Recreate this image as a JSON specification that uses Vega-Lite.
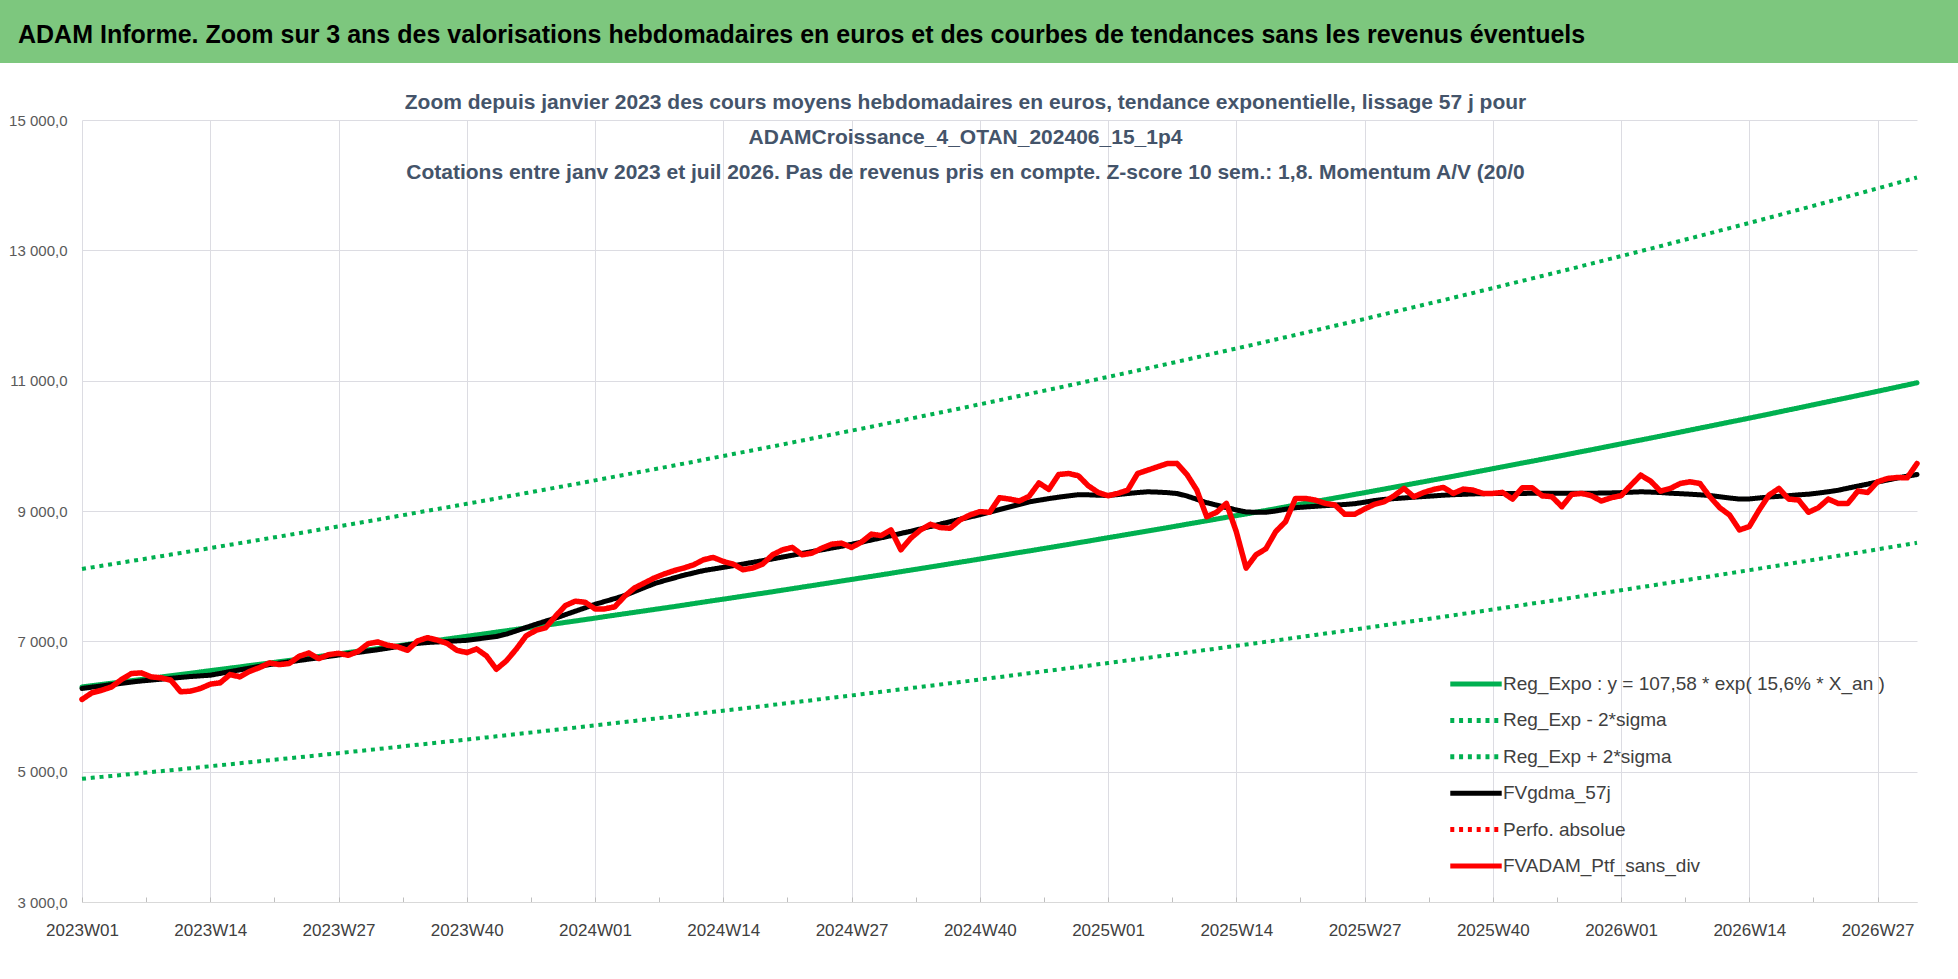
{
  "$schema": "https://vega.github.io/schema/vega-lite/v6.json",
  "background": "white",
  "padding": 0,
  "center": true,
  "bounds": "flush",
  "spacing": 57,
  "resolve": {
    "scale": {"color": "independent", "strokeDash": "independent"},
    "legend": {"color": "independent", "strokeDash": "independent"}
  },
  "config": {
    "font": "Liberation Sans, Arial, sans-serif",
    "view": {"stroke": null},
    "legend": {
      "orient": "bottom-right",
      "offset": 26,
      "padding": 0,
      "symbolType": "M-2.1,0H2.1",
      "symbolSize": 600,
      "symbolStrokeWidth": 5,
      "labelFontSize": 19,
      "labelColor": "#404040",
      "labelOffset": 12,
      "labelLimit": 700,
      "rowPadding": 11.4
    }
  },
  "vconcat": [
    {
      "width": 1999,
      "height": 63,
      "view": {"fill": "#7DC77E", "stroke": null},
      "data": {"values": []},
      "mark": "text",
      "encoding": {},
      "title": {
        "text": "ADAM Informe. Zoom sur 3 ans des valorisations hebdomadaires en euros et des courbes de tendances sans les revenus éventuels",
        "anchor": "start",
        "frame": "group",
        "orient": "top",
        "offset": -73,
        "baseline": "bottom",
        "dx": 18,
        "fontSize": 25,
        "fontWeight": "bold",
        "color": "#000000"
      }
    },
    {
      "width": 1835,
      "height": 782,
      "title": {
        "text": [
          "Zoom depuis janvier 2023 des cours moyens hebdomadaires  en euros, tendance exponentielle, lissage 57 j pour",
          "ADAMCroissance_4_OTAN_202406_15_1p4",
          "Cotations  entre janv 2023 et juil 2026. Pas de revenus pris en compte. Z-score 10 sem.: 1,8. Momentum A/V (20/0"
        ],
        "anchor": "middle",
        "frame": "group",
        "orient": "top",
        "offset": -91,
        "baseline": "bottom",
        "dx": -34,
        "fontSize": 21,
        "lineHeight": 35,
        "fontWeight": "bold",
        "color": "#44546A"
      },
      "data": {
        "values": [
          {"i":0,"w":"2023W01","reg":6300,"lo":4890,"hi":8110,"ma":6277,"ptf":6109},
          {"i":1,"w":"2023W02","reg":6319,"lo":4905,"hi":8135,"ma":6297,"ptf":6210},
          {"i":2,"w":"2023W03","reg":6338,"lo":4920,"hi":8159,"ma":6316,"ptf":6250},
          {"i":3,"w":"2023W04","reg":6357,"lo":4934,"hi":8184,"ma":6336,"ptf":6300},
          {"i":4,"w":"2023W05","reg":6376,"lo":4949,"hi":8208,"ma":6355,"ptf":6414},
          {"i":5,"w":"2023W06","reg":6395,"lo":4964,"hi":8233,"ma":6375,"ptf":6506},
          {"i":6,"w":"2023W07","reg":6414,"lo":4979,"hi":8257,"ma":6392,"ptf":6516},
          {"i":7,"w":"2023W08","reg":6433,"lo":4994,"hi":8282,"ma":6405,"ptf":6455},
          {"i":8,"w":"2023W09","reg":6452,"lo":5008,"hi":8306,"ma":6419,"ptf":6440},
          {"i":9,"w":"2023W10","reg":6472,"lo":5023,"hi":8331,"ma":6433,"ptf":6404},
          {"i":10,"w":"2023W11","reg":6491,"lo":5038,"hi":8355,"ma":6446,"ptf":6226},
          {"i":11,"w":"2023W12","reg":6510,"lo":5053,"hi":8381,"ma":6460,"ptf":6236},
          {"i":12,"w":"2023W13","reg":6530,"lo":5068,"hi":8406,"ma":6470,"ptf":6277},
          {"i":13,"w":"2023W14","reg":6550,"lo":5084,"hi":8431,"ma":6480,"ptf":6343},
          {"i":14,"w":"2023W15","reg":6569,"lo":5099,"hi":8456,"ma":6507,"ptf":6363},
          {"i":15,"w":"2023W16","reg":6589,"lo":5114,"hi":8482,"ma":6535,"ptf":6490},
          {"i":16,"w":"2023W17","reg":6608,"lo":5129,"hi":8507,"ma":6562,"ptf":6455},
          {"i":17,"w":"2023W18","reg":6628,"lo":5145,"hi":8532,"ma":6589,"ptf":6540},
          {"i":18,"w":"2023W19","reg":6648,"lo":5160,"hi":8557,"ma":6616,"ptf":6597},
          {"i":19,"w":"2023W20","reg":6667,"lo":5175,"hi":8583,"ma":6643,"ptf":6669},
          {"i":20,"w":"2023W21","reg":6687,"lo":5190,"hi":8608,"ma":6664,"ptf":6643},
          {"i":21,"w":"2023W22","reg":6707,"lo":5206,"hi":8634,"ma":6685,"ptf":6659},
          {"i":22,"w":"2023W23","reg":6727,"lo":5221,"hi":8660,"ma":6706,"ptf":6770},
          {"i":23,"w":"2023W24","reg":6748,"lo":5237,"hi":8686,"ma":6727,"ptf":6821},
          {"i":24,"w":"2023W25","reg":6768,"lo":5253,"hi":8712,"ma":6748,"ptf":6735},
          {"i":25,"w":"2023W26","reg":6788,"lo":5269,"hi":8738,"ma":6769,"ptf":6796},
          {"i":26,"w":"2023W27","reg":6808,"lo":5284,"hi":8764,"ma":6790,"ptf":6816},
          {"i":27,"w":"2023W28","reg":6828,"lo":5300,"hi":8790,"ma":6810,"ptf":6786},
          {"i":28,"w":"2023W29","reg":6849,"lo":5316,"hi":8816,"ma":6831,"ptf":6847},
          {"i":29,"w":"2023W30","reg":6869,"lo":5331,"hi":8842,"ma":6851,"ptf":6964},
          {"i":30,"w":"2023W31","reg":6889,"lo":5347,"hi":8868,"ma":6872,"ptf":6990},
          {"i":31,"w":"2023W32","reg":6910,"lo":5364,"hi":8895,"ma":6895,"ptf":6939},
          {"i":32,"w":"2023W33","reg":6931,"lo":5380,"hi":8922,"ma":6920,"ptf":6915},
          {"i":33,"w":"2023W34","reg":6952,"lo":5396,"hi":8949,"ma":6945,"ptf":6862},
          {"i":34,"w":"2023W35","reg":6973,"lo":5412,"hi":8976,"ma":6968,"ptf":7005},
          {"i":35,"w":"2023W36","reg":6993,"lo":5428,"hi":9003,"ma":6982,"ptf":7056},
          {"i":36,"w":"2023W37","reg":7014,"lo":5444,"hi":9029,"ma":6990,"ptf":7020},
          {"i":37,"w":"2023W38","reg":7035,"lo":5461,"hi":9056,"ma":6998,"ptf":6969},
          {"i":38,"w":"2023W39","reg":7056,"lo":5477,"hi":9083,"ma":7007,"ptf":6862},
          {"i":39,"w":"2023W40","reg":7077,"lo":5493,"hi":9110,"ma":7015,"ptf":6827},
          {"i":40,"w":"2023W41","reg":7098,"lo":5509,"hi":9137,"ma":7035,"ptf":6883},
          {"i":41,"w":"2023W42","reg":7119,"lo":5526,"hi":9164,"ma":7055,"ptf":6776},
          {"i":42,"w":"2023W43","reg":7141,"lo":5542,"hi":9192,"ma":7074,"ptf":6572},
          {"i":43,"w":"2023W44","reg":7162,"lo":5559,"hi":9220,"ma":7110,"ptf":6699},
          {"i":44,"w":"2023W45","reg":7183,"lo":5576,"hi":9247,"ma":7160,"ptf":6877},
          {"i":45,"w":"2023W46","reg":7205,"lo":5592,"hi":9275,"ma":7212,"ptf":7081},
          {"i":46,"w":"2023W47","reg":7226,"lo":5609,"hi":9302,"ma":7262,"ptf":7168},
          {"i":47,"w":"2023W48","reg":7248,"lo":5626,"hi":9330,"ma":7310,"ptf":7208},
          {"i":48,"w":"2023W49","reg":7269,"lo":5642,"hi":9358,"ma":7356,"ptf":7386},
          {"i":49,"w":"2023W50","reg":7291,"lo":5659,"hi":9385,"ma":7410,"ptf":7549},
          {"i":50,"w":"2023W51","reg":7312,"lo":5676,"hi":9413,"ma":7462,"ptf":7616},
          {"i":51,"w":"2023W52","reg":7334,"lo":5693,"hi":9441,"ma":7515,"ptf":7600},
          {"i":52,"w":"2024W01","reg":7356,"lo":5710,"hi":9470,"ma":7568,"ptf":7498},
          {"i":53,"w":"2024W02","reg":7379,"lo":5727,"hi":9498,"ma":7612,"ptf":7498},
          {"i":54,"w":"2024W03","reg":7401,"lo":5744,"hi":9527,"ma":7656,"ptf":7529},
          {"i":55,"w":"2024W04","reg":7423,"lo":5761,"hi":9555,"ma":7703,"ptf":7692},
          {"i":56,"w":"2024W05","reg":7445,"lo":5779,"hi":9584,"ma":7765,"ptf":7819},
          {"i":57,"w":"2024W06","reg":7467,"lo":5796,"hi":9612,"ma":7825,"ptf":7895},
          {"i":58,"w":"2024W07","reg":7489,"lo":5813,"hi":9641,"ma":7885,"ptf":7972},
          {"i":59,"w":"2024W08","reg":7511,"lo":5830,"hi":9669,"ma":7930,"ptf":8033},
          {"i":60,"w":"2024W09","reg":7533,"lo":5847,"hi":9698,"ma":7972,"ptf":8084},
          {"i":61,"w":"2024W10","reg":7556,"lo":5865,"hi":9727,"ma":8013,"ptf":8125},
          {"i":62,"w":"2024W11","reg":7579,"lo":5883,"hi":9756,"ma":8050,"ptf":8175},
          {"i":63,"w":"2024W12","reg":7602,"lo":5900,"hi":9786,"ma":8085,"ptf":8252},
          {"i":64,"w":"2024W13","reg":7625,"lo":5918,"hi":9815,"ma":8110,"ptf":8287},
          {"i":65,"w":"2024W14","reg":7647,"lo":5936,"hi":9844,"ma":8135,"ptf":8226},
          {"i":66,"w":"2024W15","reg":7670,"lo":5953,"hi":9874,"ma":8160,"ptf":8186},
          {"i":67,"w":"2024W16","reg":7693,"lo":5971,"hi":9903,"ma":8185,"ptf":8099},
          {"i":68,"w":"2024W17","reg":7716,"lo":5989,"hi":9932,"ma":8212,"ptf":8125},
          {"i":69,"w":"2024W18","reg":7738,"lo":6006,"hi":9962,"ma":8238,"ptf":8186},
          {"i":70,"w":"2024W19","reg":7761,"lo":6024,"hi":9991,"ma":8265,"ptf":8328},
          {"i":71,"w":"2024W20","reg":7785,"lo":6042,"hi":10021,"ma":8293,"ptf":8404},
          {"i":72,"w":"2024W21","reg":7808,"lo":6061,"hi":10052,"ma":8321,"ptf":8440},
          {"i":73,"w":"2024W22","reg":7832,"lo":6079,"hi":10082,"ma":8349,"ptf":8328},
          {"i":74,"w":"2024W23","reg":7855,"lo":6097,"hi":10112,"ma":8377,"ptf":8354},
          {"i":75,"w":"2024W24","reg":7879,"lo":6115,"hi":10142,"ma":8404,"ptf":8430},
          {"i":76,"w":"2024W25","reg":7902,"lo":6134,"hi":10172,"ma":8432,"ptf":8491},
          {"i":77,"w":"2024W26","reg":7926,"lo":6152,"hi":10203,"ma":8459,"ptf":8506},
          {"i":78,"w":"2024W27","reg":7949,"lo":6170,"hi":10233,"ma":8488,"ptf":8440},
          {"i":79,"w":"2024W28","reg":7973,"lo":6188,"hi":10263,"ma":8521,"ptf":8522},
          {"i":80,"w":"2024W29","reg":7996,"lo":6207,"hi":10293,"ma":8555,"ptf":8644},
          {"i":81,"w":"2024W30","reg":8020,"lo":6225,"hi":10325,"ma":8588,"ptf":8623},
          {"i":82,"w":"2024W31","reg":8044,"lo":6244,"hi":10356,"ma":8621,"ptf":8710},
          {"i":83,"w":"2024W32","reg":8069,"lo":6263,"hi":10387,"ma":8655,"ptf":8404},
          {"i":84,"w":"2024W33","reg":8093,"lo":6282,"hi":10418,"ma":8688,"ptf":8583},
          {"i":85,"w":"2024W34","reg":8117,"lo":6300,"hi":10449,"ma":8725,"ptf":8710},
          {"i":86,"w":"2024W35","reg":8141,"lo":6319,"hi":10480,"ma":8762,"ptf":8796},
          {"i":87,"w":"2024W36","reg":8165,"lo":6338,"hi":10511,"ma":8798,"ptf":8746},
          {"i":88,"w":"2024W37","reg":8190,"lo":6357,"hi":10542,"ma":8835,"ptf":8735},
          {"i":89,"w":"2024W38","reg":8214,"lo":6375,"hi":10574,"ma":8872,"ptf":8863},
          {"i":90,"w":"2024W39","reg":8238,"lo":6394,"hi":10605,"ma":8908,"ptf":8939},
          {"i":91,"w":"2024W40","reg":8263,"lo":6414,"hi":10637,"ma":8942,"ptf":8990},
          {"i":92,"w":"2024W41","reg":8288,"lo":6433,"hi":10669,"ma":8982,"ptf":8980},
          {"i":93,"w":"2024W42","reg":8313,"lo":6452,"hi":10701,"ma":9022,"ptf":9204},
          {"i":94,"w":"2024W43","reg":8338,"lo":6472,"hi":10733,"ma":9062,"ptf":9183},
          {"i":95,"w":"2024W44","reg":8363,"lo":6491,"hi":10765,"ma":9100,"ptf":9153},
          {"i":96,"w":"2024W45","reg":8387,"lo":6510,"hi":10797,"ma":9140,"ptf":9225},
          {"i":97,"w":"2024W46","reg":8412,"lo":6530,"hi":10829,"ma":9165,"ptf":9430},
          {"i":98,"w":"2024W47","reg":8437,"lo":6549,"hi":10861,"ma":9190,"ptf":9331},
          {"i":99,"w":"2024W48","reg":8462,"lo":6568,"hi":10893,"ma":9212,"ptf":9560},
          {"i":100,"w":"2024W49","reg":8487,"lo":6588,"hi":10926,"ma":9232,"ptf":9575},
          {"i":101,"w":"2024W50","reg":8513,"lo":6608,"hi":10959,"ma":9250,"ptf":9540},
          {"i":102,"w":"2024W51","reg":8538,"lo":6627,"hi":10992,"ma":9248,"ptf":9387},
          {"i":103,"w":"2024W52","reg":8564,"lo":6647,"hi":11025,"ma":9242,"ptf":9285},
          {"i":104,"w":"2025W01","reg":8590,"lo":6667,"hi":11058,"ma":9238,"ptf":9234},
          {"i":105,"w":"2025W02","reg":8615,"lo":6687,"hi":11091,"ma":9252,"ptf":9270},
          {"i":106,"w":"2025W03","reg":8641,"lo":6707,"hi":11124,"ma":9268,"ptf":9321},
          {"i":107,"w":"2025W04","reg":8667,"lo":6727,"hi":11157,"ma":9283,"ptf":9575},
          {"i":108,"w":"2025W05","reg":8692,"lo":6747,"hi":11190,"ma":9295,"ptf":9626},
          {"i":109,"w":"2025W06","reg":8718,"lo":6767,"hi":11223,"ma":9290,"ptf":9677},
          {"i":110,"w":"2025W07","reg":8744,"lo":6787,"hi":11256,"ma":9282,"ptf":9728},
          {"i":111,"w":"2025W08","reg":8770,"lo":6807,"hi":11290,"ma":9268,"ptf":9728},
          {"i":112,"w":"2025W09","reg":8797,"lo":6828,"hi":11324,"ma":9230,"ptf":9560},
          {"i":113,"w":"2025W10","reg":8823,"lo":6849,"hi":11358,"ma":9180,"ptf":9321},
          {"i":114,"w":"2025W11","reg":8850,"lo":6869,"hi":11392,"ma":9127,"ptf":8913},
          {"i":115,"w":"2025W12","reg":8876,"lo":6890,"hi":11426,"ma":9090,"ptf":8980},
          {"i":116,"w":"2025W13","reg":8903,"lo":6910,"hi":11460,"ma":9052,"ptf":9117},
          {"i":117,"w":"2025W14","reg":8929,"lo":6931,"hi":11494,"ma":9016,"ptf":8684},
          {"i":118,"w":"2025W15","reg":8955,"lo":6951,"hi":11528,"ma":8985,"ptf":8124},
          {"i":119,"w":"2025W16","reg":8982,"lo":6972,"hi":11562,"ma":8980,"ptf":8328},
          {"i":120,"w":"2025W17","reg":9008,"lo":6992,"hi":11597,"ma":8980,"ptf":8420},
          {"i":121,"w":"2025W18","reg":9035,"lo":7013,"hi":11632,"ma":9000,"ptf":8684},
          {"i":122,"w":"2025W19","reg":9063,"lo":7035,"hi":11667,"ma":9027,"ptf":8837},
          {"i":123,"w":"2025W20","reg":9090,"lo":7056,"hi":11702,"ma":9050,"ptf":9193},
          {"i":124,"w":"2025W21","reg":9117,"lo":7077,"hi":11737,"ma":9062,"ptf":9193},
          {"i":125,"w":"2025W22","reg":9145,"lo":7098,"hi":11772,"ma":9072,"ptf":9168},
          {"i":126,"w":"2025W23","reg":9172,"lo":7119,"hi":11807,"ma":9082,"ptf":9117},
          {"i":127,"w":"2025W24","reg":9199,"lo":7140,"hi":11842,"ma":9092,"ptf":9092},
          {"i":128,"w":"2025W25","reg":9226,"lo":7161,"hi":11877,"ma":9100,"ptf":8949},
          {"i":129,"w":"2025W26","reg":9254,"lo":7182,"hi":11912,"ma":9112,"ptf":8949},
          {"i":130,"w":"2025W27","reg":9281,"lo":7204,"hi":11947,"ma":9135,"ptf":9031},
          {"i":131,"w":"2025W28","reg":9309,"lo":7225,"hi":11983,"ma":9160,"ptf":9102},
          {"i":132,"w":"2025W29","reg":9337,"lo":7247,"hi":12020,"ma":9178,"ptf":9143},
          {"i":133,"w":"2025W30","reg":9365,"lo":7269,"hi":12056,"ma":9190,"ptf":9234},
          {"i":134,"w":"2025W31","reg":9393,"lo":7291,"hi":12092,"ma":9200,"ptf":9346},
          {"i":135,"w":"2025W32","reg":9421,"lo":7313,"hi":12128,"ma":9212,"ptf":9219},
          {"i":136,"w":"2025W33","reg":9449,"lo":7334,"hi":12164,"ma":9222,"ptf":9285},
          {"i":137,"w":"2025W34","reg":9477,"lo":7356,"hi":12200,"ma":9232,"ptf":9331},
          {"i":138,"w":"2025W35","reg":9505,"lo":7378,"hi":12236,"ma":9242,"ptf":9361},
          {"i":139,"w":"2025W36","reg":9533,"lo":7400,"hi":12273,"ma":9250,"ptf":9270},
          {"i":140,"w":"2025W37","reg":9562,"lo":7422,"hi":12309,"ma":9256,"ptf":9336},
          {"i":141,"w":"2025W38","reg":9591,"lo":7444,"hi":12346,"ma":9262,"ptf":9321},
          {"i":142,"w":"2025W39","reg":9620,"lo":7466,"hi":12383,"ma":9266,"ptf":9270},
          {"i":143,"w":"2025W40","reg":9649,"lo":7489,"hi":12420,"ma":9270,"ptf":9270},
          {"i":144,"w":"2025W41","reg":9678,"lo":7511,"hi":12458,"ma":9270,"ptf":9285},
          {"i":145,"w":"2025W42","reg":9707,"lo":7534,"hi":12495,"ma":9270,"ptf":9183},
          {"i":146,"w":"2025W43","reg":9736,"lo":7556,"hi":12532,"ma":9270,"ptf":9356},
          {"i":147,"w":"2025W44","reg":9764,"lo":7579,"hi":12569,"ma":9271,"ptf":9356},
          {"i":148,"w":"2025W45","reg":9793,"lo":7601,"hi":12607,"ma":9272,"ptf":9234},
          {"i":149,"w":"2025W46","reg":9822,"lo":7624,"hi":12644,"ma":9272,"ptf":9219},
          {"i":150,"w":"2025W47","reg":9851,"lo":7646,"hi":12681,"ma":9272,"ptf":9066},
          {"i":151,"w":"2025W48","reg":9881,"lo":7669,"hi":12719,"ma":9272,"ptf":9254},
          {"i":152,"w":"2025W49","reg":9911,"lo":7692,"hi":12758,"ma":9272,"ptf":9270},
          {"i":153,"w":"2025W50","reg":9940,"lo":7716,"hi":12796,"ma":9273,"ptf":9234},
          {"i":154,"w":"2025W51","reg":9970,"lo":7739,"hi":12834,"ma":9275,"ptf":9153},
          {"i":155,"w":"2025W52","reg":10000,"lo":7762,"hi":12873,"ma":9278,"ptf":9204},
          {"i":156,"w":"2026W01","reg":10030,"lo":7785,"hi":12911,"ma":9282,"ptf":9234},
          {"i":157,"w":"2026W02","reg":10060,"lo":7808,"hi":12949,"ma":9288,"ptf":9397},
          {"i":158,"w":"2026W03","reg":10089,"lo":7831,"hi":12988,"ma":9295,"ptf":9550},
          {"i":159,"w":"2026W04","reg":10119,"lo":7854,"hi":13026,"ma":9290,"ptf":9458},
          {"i":160,"w":"2026W05","reg":10149,"lo":7877,"hi":13065,"ma":9283,"ptf":9305},
          {"i":161,"w":"2026W06","reg":10180,"lo":7901,"hi":13104,"ma":9273,"ptf":9346},
          {"i":162,"w":"2026W07","reg":10210,"lo":7925,"hi":13144,"ma":9266,"ptf":9422},
          {"i":163,"w":"2026W08","reg":10241,"lo":7949,"hi":13183,"ma":9258,"ptf":9448},
          {"i":164,"w":"2026W09","reg":10272,"lo":7973,"hi":13223,"ma":9248,"ptf":9422},
          {"i":165,"w":"2026W10","reg":10302,"lo":7996,"hi":13262,"ma":9238,"ptf":9219},
          {"i":166,"w":"2026W11","reg":10333,"lo":8020,"hi":13302,"ma":9218,"ptf":9051},
          {"i":167,"w":"2026W12","reg":10364,"lo":8044,"hi":13341,"ma":9200,"ptf":8939},
          {"i":168,"w":"2026W13","reg":10394,"lo":8068,"hi":13381,"ma":9183,"ptf":8710},
          {"i":169,"w":"2026W14","reg":10425,"lo":8092,"hi":13420,"ma":9185,"ptf":8761},
          {"i":170,"w":"2026W15","reg":10456,"lo":8116,"hi":13460,"ma":9200,"ptf":9015},
          {"i":171,"w":"2026W16","reg":10487,"lo":8140,"hi":13500,"ma":9215,"ptf":9244},
          {"i":172,"w":"2026W17","reg":10519,"lo":8165,"hi":13541,"ma":9225,"ptf":9346},
          {"i":173,"w":"2026W18","reg":10551,"lo":8189,"hi":13582,"ma":9235,"ptf":9183},
          {"i":174,"w":"2026W19","reg":10582,"lo":8214,"hi":13623,"ma":9248,"ptf":9168},
          {"i":175,"w":"2026W20","reg":10614,"lo":8238,"hi":13663,"ma":9258,"ptf":8980},
          {"i":176,"w":"2026W21","reg":10646,"lo":8263,"hi":13704,"ma":9275,"ptf":9051},
          {"i":177,"w":"2026W22","reg":10677,"lo":8288,"hi":13745,"ma":9295,"ptf":9183},
          {"i":178,"w":"2026W23","reg":10709,"lo":8312,"hi":13786,"ma":9318,"ptf":9117},
          {"i":179,"w":"2026W24","reg":10740,"lo":8337,"hi":13826,"ma":9350,"ptf":9117},
          {"i":180,"w":"2026W25","reg":10772,"lo":8361,"hi":13867,"ma":9382,"ptf":9305},
          {"i":181,"w":"2026W26","reg":10804,"lo":8386,"hi":13909,"ma":9412,"ptf":9285},
          {"i":182,"w":"2026W27","reg":10837,"lo":8412,"hi":13951,"ma":9445,"ptf":9448},
          {"i":183,"w":"2026W28","reg":10869,"lo":8437,"hi":13992,"ma":9475,"ptf":9499},
          {"i":184,"w":"2026W29","reg":10902,"lo":8462,"hi":14034,"ma":9505,"ptf":9514},
          {"i":185,"w":"2026W30","reg":10934,"lo":8487,"hi":14076,"ma":9534,"ptf":9509},
          {"i":186,"w":"2026W31","reg":10967,"lo":8512,"hi":14118,"ma":9560,"ptf":9728}
        ]
      },
      "transform": [{"fold": ["reg", "lo", "hi", "ma", "ptf"], "as": ["serie", "v"]}],
      "encoding": {
        "x": {
          "field": "i",
          "type": "quantitative",
          "scale": {"domain": [0, 186], "nice": false, "zero": false},
          "axis": {
            "title": null,
            "values": [0, 6.5, 13, 19.5, 26, 32.5, 39, 45.5, 52, 58.5, 65, 71.5, 78, 84.5, 91, 97.5, 104, 110.5, 117, 123.5, 130, 136.5, 143, 149.5, 156, 162.5, 169, 175.5, 182],
            "labelExpr": "datum.value % 13 === 0 ? (2023 + floor(datum.value / 52)) + 'W' + ((datum.value % 52) + 1 < 10 ? '0' : '') + ((datum.value % 52) + 1) : ''",
            "grid": true,
            "gridColor": "#DCDCE2",
            "gridOpacity": {"condition": {"test": "datum.value % 13 === 0", "value": 1}, "value": 0},
            "domainColor": "#D9D9D9",
            "tickColor": "#BFBFBF",
            "tickSize": -5,
            "labelFontSize": 17,
            "labelColor": "#404040",
            "labelPadding": 25,
            "labelFlush": false,
            "labelOverlap": false
          }
        },
        "y": {
          "field": "v",
          "type": "quantitative",
          "scale": {"domain": [3000, 15000], "nice": false, "zero": false},
          "axis": {
            "title": null,
            "values": [3000, 5000, 7000, 9000, 11000, 13000, 15000],
            "labelExpr": "replace(replace(format(datum.value, ',.1f'), ',', ' '), '.', ',')",
            "grid": true,
            "gridColor": "#DCDCE2",
            "domain": false,
            "ticks": false,
            "labelFontSize": 15,
            "labelColor": "#595959",
            "labelPadding": 15
          }
        }
      },
      "layer": [
        {
          "transform": [{"filter": "datum.serie === 'reg'"}],
          "mark": {"type": "line", "strokeWidth": 5, "strokeCap": "round", "strokeJoin": "round"},
          "encoding": {
            "color": {
              "datum": "Reg_Expo : y = 107,58 * exp( 15,6% *  X_an )",
              "scale": {
                "domain": ["Reg_Expo : y = 107,58 * exp( 15,6% *  X_an )", "Reg_Exp - 2*sigma", "Reg_Exp + 2*sigma", "FVgdma_57j", "Perfo. absolue", "FVADAM_Ptf_sans_div"],
                "range": ["#00B050", "#00B050", "#00B050", "#000000", "#FF0000", "#FF0000"]
              },
              "legend": {"title": null}
            },
            "strokeDash": {
              "datum": "Reg_Expo : y = 107,58 * exp( 15,6% *  X_an )",
              "scale": {
                "domain": ["Reg_Expo : y = 107,58 * exp( 15,6% *  X_an )", "Reg_Exp - 2*sigma", "Reg_Exp + 2*sigma", "FVgdma_57j", "Perfo. absolue", "FVADAM_Ptf_sans_div"],
                "range": [[1, 0], [4, 4.8], [4, 4.8], [1, 0], [4, 4.8], [1, 0]]
              },
              "legend": {"title": null}
            }
          }
        },
        {
          "transform": [{"filter": "datum.serie === 'lo'"}],
          "mark": {"type": "line", "strokeWidth": 4, "strokeCap": "butt"},
          "encoding": {
            "color": {"datum": "Reg_Exp - 2*sigma"},
            "strokeDash": {"datum": "Reg_Exp - 2*sigma"}
          }
        },
        {
          "transform": [{"filter": "datum.serie === 'hi'"}],
          "mark": {"type": "line", "strokeWidth": 4, "strokeCap": "butt"},
          "encoding": {
            "color": {"datum": "Reg_Exp + 2*sigma"},
            "strokeDash": {"datum": "Reg_Exp + 2*sigma"}
          }
        },
        {
          "transform": [{"filter": "datum.serie === 'ma'"}],
          "mark": {"type": "line", "strokeWidth": 5, "strokeCap": "round", "strokeJoin": "round"},
          "encoding": {
            "color": {"datum": "FVgdma_57j"},
            "strokeDash": {"datum": "FVgdma_57j"}
          }
        },
        {
          "transform": [{"filter": "datum.serie === 'ptf'"}],
          "mark": {"type": "line", "strokeWidth": 5.5, "strokeCap": "round", "strokeJoin": "round"},
          "encoding": {
            "color": {"datum": "FVADAM_Ptf_sans_div"},
            "strokeDash": {"datum": "FVADAM_Ptf_sans_div"}
          }
        }
      ]
    }
  ]
}
